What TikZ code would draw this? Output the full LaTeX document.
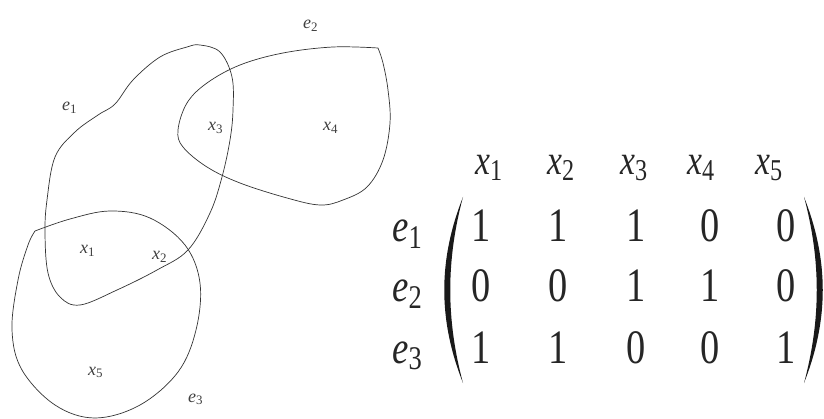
\documentclass[tikz,border=0pt]{standalone}
\usepackage{fontspec}
\setmainfont{Liberation Serif}
\newfontfamily\matfont{Liberation Serif}
\usepackage{tikz}
\usetikzlibrary{positioning}

\newcommand{\vlab}[2]{\textit{#1}\raisebox{-0.3ex}{\scalebox{0.72}{#2}}}
\newcommand{\narrow}[1]{\scalebox{0.8}[1]{#1}}

\tikzset{
  hedge/.style={line width=0.7pt, black!80},
  smalllab/.style={font=\matfont\fontsize{18}{20}\selectfont, text=black!75, inner sep=0pt, anchor=base west},
  rowlab/.style={font=\matfont\fontsize{46}{50}\selectfont, text=black!85, inner sep=0pt, anchor=base west},
  headlab/.style={font=\matfont\fontsize{42}{46}\selectfont, text=black!85, inner sep=0pt, anchor=base west},
  entry/.style={font=\matfont\fontsize{48}{50}\selectfont, text=black!85, inner sep=0pt, anchor=base},
  paren/.style={fill=black!90, draw=none}
}

\begin{document}
\begin{tikzpicture}[x=1pt, y=-1pt]
    \useasboundingbox (0,0) rectangle (824,419);

    % Hypergraph
    \draw[hedge] plot[smooth cycle, tension=0.6] coordinates {
        (200,45) (220,52) (232,77) (233,110) (230,140) (222,177) (210,213)
        (188,250) (157,270) (117,290) (80,305) (60,297) (48,273) (45,233)
        (47,200) (55,157) (75,132) (98,115) (115,104) (133,80) (160,57) (187,47)};
    \draw[hedge] plot[smooth, tension=0.6] coordinates {
        (378,48) (333,47) (283,53) (240,65) (207,83) (187,103) (178,130)
        (183,147) (207,167) (240,183) (287,198) (320,205) (343,200) (367,187)
        (383,160) (390,123) (388,90) (383,63) (378,48)};
    \draw[hedge] plot[smooth, tension=0.6] coordinates {
        (35,231) (70,219) (110,211) (150,218) (185,245) (200,283) (196,330)
        (178,372) (140,405) (95,418) (55,405) (22,370) (12,330) (18,280)
        (28,245) (35,231)};

    \node[smalllab] (lab_e1) at (62,111) {\vlab{e}{1}};
    \node[smalllab] (lab_e2) at (303,29) {\vlab{e}{2}};
    \node[smalllab] (lab_e3) at (188,402) {\vlab{e}{3}};
    \node[smalllab] (lab_x1) at (80,254) {\vlab{x}{1}};
    \node[smalllab] (lab_x2) at (152,260) {\vlab{x}{2}};
    \node[smalllab] (lab_x3) at (208,131) {\vlab{x}{3}};
    \node[smalllab] (lab_x4) at (323,131) {\vlab{x}{4}};
    \node[smalllab] (lab_x5) at (88,375) {\vlab{x}{5}};

    % Incidence matrix
    \node[headlab] (head_x1) at (475,175) {\narrow{\vlab{x}{1}}};
    \node[headlab] (head_x2) at (547,175) {\narrow{\vlab{x}{2}}};
    \node[headlab] (head_x3) at (620,175) {\narrow{\vlab{x}{3}}};
    \node[headlab] (head_x4) at (687,175) {\narrow{\vlab{x}{4}}};
    \node[headlab] (head_x5) at (755,175) {\narrow{\vlab{x}{5}}};

    \node[rowlab] (row_e1) at (392,242) {\narrow{\vlab{e}{1}}};
    \node[rowlab] (row_e2) at (392,302) {\narrow{\vlab{e}{2}}};
    \node[rowlab] (row_e3) at (392,363) {\narrow{\vlab{e}{3}}};

    \node[entry] (m11) at (481,242) {\narrow{1}};
    \node[entry] (m12) at (558,242) {\narrow{1}};
    \node[entry] (m13) at (636,242) {\narrow{1}};
    \node[entry] (m14) at (710,242) {\narrow{0}};
    \node[entry] (m15) at (786,242) {\narrow{0}};
    \node[entry] (m21) at (481,302) {\narrow{0}};
    \node[entry] (m22) at (558,302) {\narrow{0}};
    \node[entry] (m23) at (636,302) {\narrow{1}};
    \node[entry] (m24) at (710,302) {\narrow{1}};
    \node[entry] (m25) at (786,302) {\narrow{0}};
    \node[entry] (m31) at (481,363) {\narrow{1}};
    \node[entry] (m32) at (558,363) {\narrow{1}};
    \node[entry] (m33) at (636,363) {\narrow{0}};
    \node[entry] (m34) at (710,363) {\narrow{0}};
    \node[entry] (m35) at (786,363) {\narrow{1}};

    % Brackets
    \fill[paren] (463,197) .. controls (438,260) and (438,320) .. (463,383)
        .. controls (446,320) and (446,260) .. (463,197) -- cycle;
    \fill[paren] (804,197) .. controls (829,260) and (829,320) .. (804,383)
        .. controls (821,320) and (821,260) .. (804,197) -- cycle;
\end{tikzpicture}
\end{document}
